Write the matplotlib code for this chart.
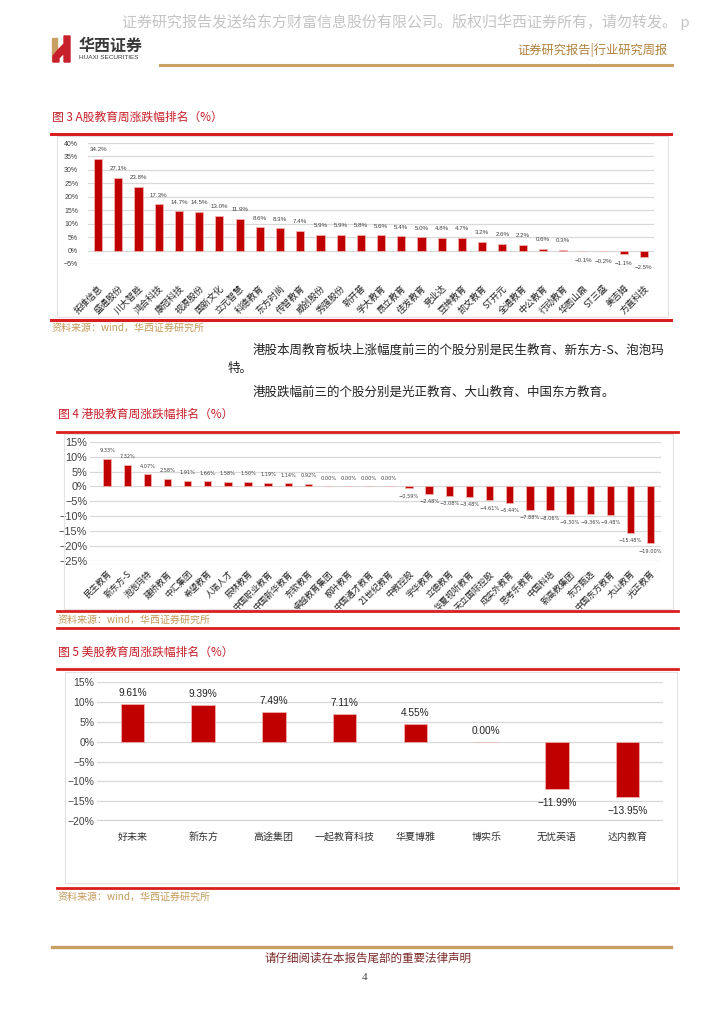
import matplotlib
matplotlib.use("Agg")
import matplotlib.pyplot as plt
from matplotlib.lines import Line2D
from matplotlib.patches import Rectangle, Polygon

plt.rcParams['font.family'] = ['Noto Sans CJK SC', 'DejaVu Sans']
plt.rcParams['axes.unicode_minus'] = True

# ---- data ----
a_names = ['拓维信息', '盛通股份', '川大智胜', '鸿合科技', '康冠科技', '视源股份', '国新文化',
           '立元智慧', '科德教育', '东方时尚', '传智教育', '威创股份', '秀强股份', '新开普',
           '学大教育', '昂立教育', '佳发教育', '竞业达', '豆神教育', '凯文教育', 'ST开元',
           '全通教育', '中公教育', '行动教育', '华图山鼎', 'ST三盛', '美吉姆', '方直科技']
a_vals = [34.2, 27.1, 23.8, 17.3, 14.7, 14.5, 13.0, 11.9, 8.6, 8.3, 7.4, 5.9, 5.9, 5.8,
          5.6, 5.4, 5.0, 4.8, 4.7, 3.2, 2.6, 2.2, 0.6, 0.3, -0.1, -0.2, -1.1, -2.5]

hk_names = ['民生教育', '新东方-S', '泡泡玛特', '建桥教育', '中汇集团', '希望教育', '人瑞人才',
            '辰林教育', '中国职业教育', '中国新华教育', '东软教育', '卓越教育集团', '枫叶教育',
            '中国通才教育', '21世纪教育', '中教控股', '宇华教育', '立德教育', '华夏视听教育',
            '天立国际控股', '成实外教育', '思考乐教育', '中国科培', '新高教集团', '东方甄选',
            '中国东方教育', '大山教育', '光正教育']
hk_vals = [9.33, 7.32, 4.07, 2.58, 1.91, 1.66, 1.58, 1.50, 1.19, 1.14, 0.92, 0.00, 0.00,
           0.00, 0.00, -0.59, -2.48, -3.08, -3.48, -4.61, -5.44, -7.88, -8.06, -9.30,
           -9.36, -9.48, -15.48, -19.00]

us_names = ['好未来', '新东方', '高途集团', '一起教育科技', '华夏博雅', '博实乐', '无忧英语', '达内教育']
us_vals = [9.61, 9.39, 7.49, 7.11, 4.55, 0.00, -11.99, -13.95]

RED = '#C00000'
GRID = '#D9D9D9'
GOLD = '#C49A5A'
W, H = 724, 1024

fig = plt.figure(figsize=(W / 100, H / 100), dpi=100)


def fx(x):
    return x / W


def fy(y):
    return 1 - y / H


def hline(y, x0, x1, color, lw):
    fig.add_artist(Line2D([fx(x0), fx(x1)], [fy(y), fy(y)], color=color, lw=lw,
                          transform=fig.transFigure))


def box(x0, y0, x1, y1):
    fig.add_artist(Rectangle((fx(x0), fy(y1)), fx(x1) - fx(x0), fy(y0) - fy(y1),
                             fill=False, edgecolor='#E3E3E3', lw=0.8, transform=fig.transFigure))


def add_ax(l, t, r, b):
    return fig.add_axes([fx(l), fy(b), fx(r) - fx(l), fy(t) - fy(b)])


def style(ax, ylo, yhi, step, tick_size):
    ax.set_ylim(ylo, yhi)
    ticks = list(range(ylo, yhi + 1, step))
    ax.set_yticks(ticks)
    ax.set_yticklabels([f'{t}%'.replace('-', '−') for t in ticks],
                       fontsize=tick_size, color='#404040',
                       family=['Liberation Sans Narrow', 'Liberation Sans'])
    ax.yaxis.grid(True, color=GRID, lw=0.9)
    ax.set_axisbelow(True)
    for s in ax.spines.values():
        s.set_visible(False)
    ax.tick_params(axis='both', length=0)


# ---- header ----
fig.text(fx(122), fy(22), '证券研究报告发送给东方财富信息股份有限公司。版权归华西证券所有，请勿转发。 p',
         fontsize=10.8, color='#C4C4C4', va='center', ha='left')
fig.add_artist(Rectangle((fx(52), fy(61)), fx(5), fy(38) - fy(61), color='#C8A064',
                         transform=fig.transFigure))
fig.add_artist(Polygon([[fx(58), fy(50)], [fx(64), fy(44)], [fx(64), fy(36)], [fx(70), fy(36)],
                        [fx(70), fy(62)], [fx(64), fy(62)], [fx(64), fy(53)], [fx(59), fy(58)],
                        [fx(59), fy(62)], [fx(53), fy(62)], [fx(53), fy(56)]],
                       closed=True, color='#C8202A', transform=fig.transFigure))
fig.text(fx(79), fy(46), '华西证券', fontsize=11.5, fontweight='bold', color='#3A3A3A',
         va='center', ha='left')
fig.text(fx(79), fy(57.5), 'HUAXI SECURITIES', fontsize=4.6, color='#3A3A3A',
         va='center', ha='left', family=['Liberation Sans Narrow', 'Liberation Sans'])
fig.text(fx(668), fy(50), '证券研究报告|行业研究周报', fontsize=8.8, color='#B0803C',
         va='center', ha='right')
hline(65, 160, 672, '#C8A064', 2.2)

# ---- figure 3: A-share ----
fig.text(fx(52), fy(117), '图 3 A股教育周涨跌幅排名（%）', fontsize=8.5, color='#C8202A',
         va='center', ha='left')
hline(133.5, 51, 671, '#D81E1E', 2.2)
box(57, 136, 668, 317)
ax = add_ax(88, 143, 654, 264)
x = range(len(a_vals))
ax.bar(x, a_vals, width=0.4, color=RED, edgecolor='#F2B8B8', lw=0.5)
ax.set_xlim(-0.5, len(a_vals) - 0.5)
style(ax, -5, 40, 5, 5)
ax.tick_params(axis='y', pad=7)
ax.set_xticks(list(x))
ax.set_xticklabels(a_names, rotation=45, ha='right', rotation_mode='anchor',
                   fontsize=6.5, color='#222222')
ax.tick_params(axis='x', pad=14)
for i, v in enumerate(a_vals):
    off = 9 if v >= 0 else -10
    ax.annotate(f'{v:.1f}%'.replace('-', '−'), (i, v), xytext=(0, off), textcoords='offset pixels',
                ha='center', va='center', fontsize=4.4, color='#404040',
                family=['Liberation Sans Narrow', 'Liberation Sans'])
hline(320, 51, 671, '#D81E1E', 2.2)
fig.text(fx(52), fy(328), '资料来源：wind，华西证券研究所', fontsize=7.2, color=GOLD,
         va='center', ha='left')

# ---- paragraph ----
fig.text(fx(253), fy(350), '港股本周教育板块上涨幅度前三的个股分别是民生教育、新东方-S、泡泡玛',
         fontsize=9, color='#222222', va='center', ha='left')
fig.text(fx(228), fy(368), '特。', fontsize=9, color='#222222', va='center', ha='left')
fig.text(fx(253), fy(392), '港股跌幅前三的个股分别是光正教育、大山教育、中国东方教育。',
         fontsize=9, color='#222222', va='center', ha='left')

# ---- figure 4: HK ----
fig.text(fx(58), fy(414), '图 4 港股教育周涨跌幅排名（%）', fontsize=8.5, color='#C8202A',
         va='center', ha='left')
hline(431.7, 57, 678, '#D81E1E', 2.0)
box(64, 434, 673, 609)
ax = add_ax(90, 441.7, 660.7, 561)
x = range(len(hk_vals))
ax.bar(x, hk_vals, width=0.37, color=RED, edgecolor='#F2B8B8', lw=0.5)
ax.set_xlim(-0.85, len(hk_vals) - 0.5)
style(ax, -25, 15, 5, 7.8)
ax.tick_params(axis='y', pad=2)
ax.set_xticks(list(x))
ax.set_xticklabels(hk_names, rotation=45, ha='right', rotation_mode='anchor',
                   fontsize=6.2, color='#222222')
ax.tick_params(axis='x', pad=6)
for i, v in enumerate(hk_vals):
    off = 8 if v >= 0 else -8
    ax.annotate(f'{v:.2f}%'.replace('-', '−'), (i, v), xytext=(0, off), textcoords='offset pixels',
                ha='center', va='center', fontsize=3.6, color='#404040',
                family=['DejaVu Sans'])
hline(611, 57, 678, '#D81E1E', 2.0)
fig.text(fx(58), fy(620), '资料来源：wind，华西证券研究所', fontsize=7.2, color=GOLD,
         va='center', ha='left')
hline(627.7, 57, 678, '#D81E1E', 2.0)

# ---- figure 5: US ----
fig.text(fx(58), fy(652), '图 5 美股教育周涨跌幅排名（%）', fontsize=8.5, color='#C8202A',
         va='center', ha='left')
hline(668.7, 57, 678, '#D81E1E', 2.0)
box(65, 672, 677, 883)
ax = add_ax(97, 682.3, 663, 821)
x = range(len(us_vals))
ax.bar(x, us_vals, width=0.33, color=RED, edgecolor='#F2B8B8', lw=0.5)
ax.set_xlim(-0.5, len(us_vals) - 0.5)
style(ax, -20, 15, 5, 7.5)
ax.tick_params(axis='y', pad=2)
ax.set_xticks(list(x))
ax.set_xticklabels(us_names, fontsize=7.2, color='#333333')
ax.tick_params(axis='x', pad=8)
ax.axhline(-20, color='#D0D0D0', lw=1.6)
for i, v in enumerate(us_vals):
    off = 11 if v >= 0 else -13.5
    ax.annotate(f'{v:.2f}%'.replace('-', '−'), (i, v), xytext=(0, off), textcoords='offset pixels',
                ha='center', va='center', fontsize=7.3, color='#222222',
                family=['Liberation Sans Narrow', 'Liberation Sans'])
hline(888, 57, 678, '#D81E1E', 2.0)
fig.text(fx(58), fy(897), '资料来源：wind，华西证券研究所', fontsize=7.2, color=GOLD,
         va='center', ha='left')

# ---- footer ----
hline(947, 52, 671, '#C8A064', 2.4)
fig.text(fx(368), fy(958), '请仔细阅读在本报告尾部的重要法律声明', fontsize=8.3, color='#7B2A2A',
         va='center', ha='center')
fig.text(fx(365), fy(978), '4', fontsize=8, color='#444444', va='center', ha='center',
         family=['Liberation Serif'])

fig.savefig('out.png', dpi=100)
